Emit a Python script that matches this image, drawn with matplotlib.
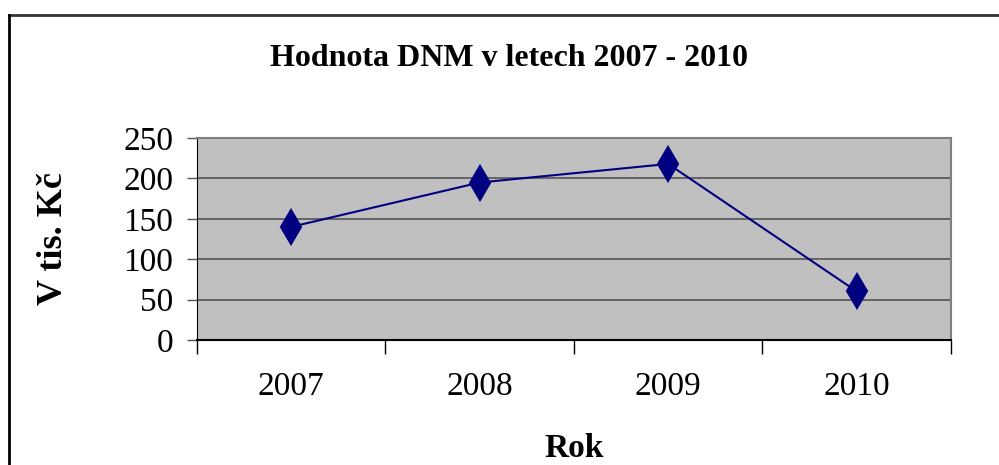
import matplotlib.pyplot as plt
from matplotlib.lines import Line2D

years = ["2007", "2008", "2009", "2010"]
values = [140, 195, 218, 60]
y_ticks = [0, 50, 100, 150, 200, 250]

plt.rcParams['font.family'] = ['Liberation Serif', 'DejaVu Serif']

fig = plt.figure(figsize=(9.99, 4.65), dpi=100)
ax = fig.add_axes([0.197, 0.269, 0.755, 0.434])
ax.set_facecolor("#c0c0c0")

x = list(range(len(years)))
ax.plot(x, values, color="#000080", linewidth=1.5, marker="d", markersize=17,
        markerfacecolor="#000080", markeredgecolor="#000080", markeredgewidth=1.5, zorder=3)

ax.set_xlim(-0.5, len(years) - 0.5)
ax.set_ylim(0, 250)
ax.set_yticks(y_ticks)
ax.set_yticklabels([str(v) for v in y_ticks], fontsize=24)
ax.yaxis.grid(True, color="#555555", linewidth=1.2)
ax.set_axisbelow(True)

# category axis: ticks at boundaries, labels centred
ax.set_xticks([i - 0.5 for i in range(len(years) + 1)])
ax.set_xticklabels([])
ax.set_xticks(x, minor=True)
ax.set_xticklabels(years, minor=True, fontsize=24)
ax.tick_params(axis="x", which="major", length=10, width=1, color="black", direction="out")
ax.tick_params(axis="x", which="minor", length=0, pad=23)
ax.tick_params(axis="y", length=7, width=1, color="#555555", pad=10)

for side in ["top", "right"]:
    ax.spines[side].set_color("#808080")
    ax.spines[side].set_linewidth(1.5)
ax.spines["left"].set_color("black")
ax.spines["bottom"].set_color("black")
ax.spines["bottom"].set_linewidth(1.5)

ax.set_ylabel("V tis. Kč", fontsize=26, fontweight="bold", labelpad=38)
ax.set_xlabel("Rok", fontsize=24, fontweight="bold", labelpad=22)
fig.text(0.51, 0.874, "Hodnota DNM v letech 2007 - 2010", fontsize=23,
         fontweight="bold", ha="center", va="center")

# outer chart frame
fig.add_artist(Line2D([0.009, 1.0], [0.968, 0.968], color="#333333", linewidth=2))
fig.add_artist(Line2D([0.009, 0.009], [0.0, 0.968], color="black", linewidth=2))

fig.savefig("out.png", dpi=100)
